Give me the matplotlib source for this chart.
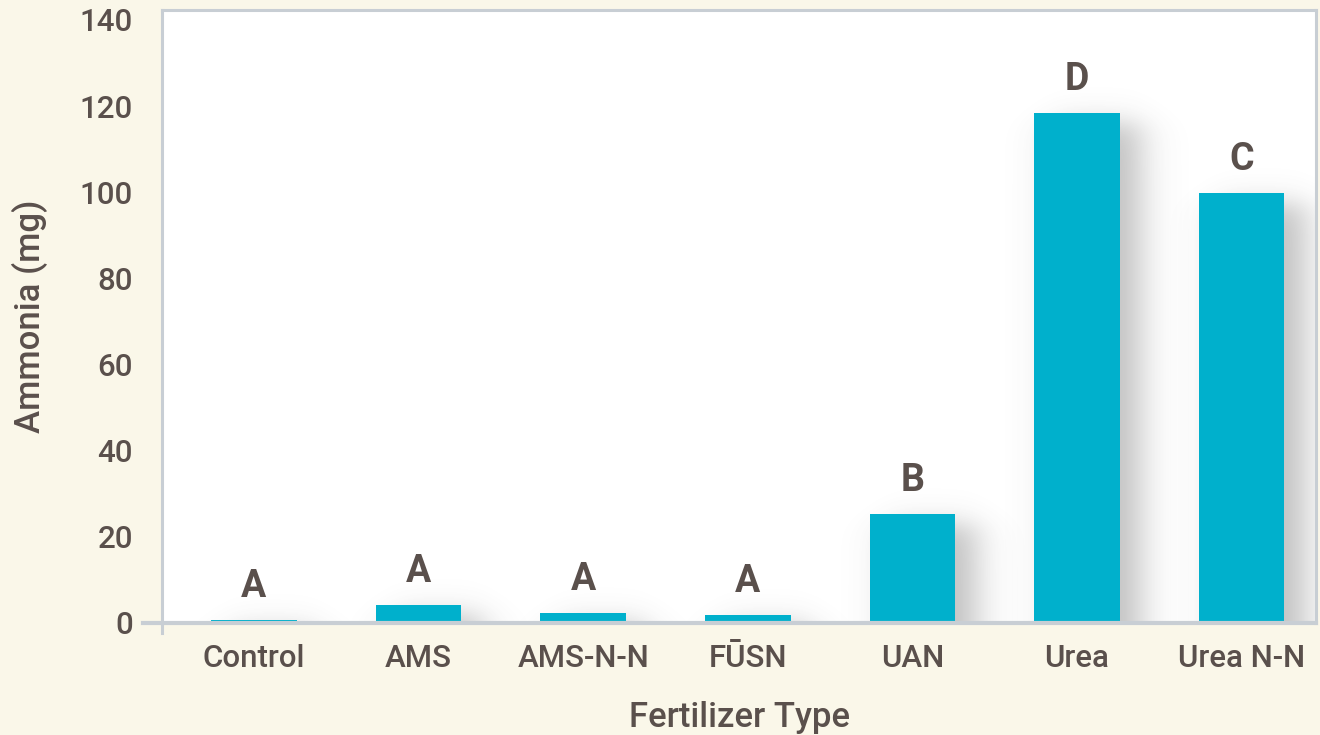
import matplotlib
matplotlib.use("Agg")
import matplotlib.pyplot as plt
import numpy as np

categories = ["Control", "AMS", "AMS-N-N", "FŪSN", "UAN", "Urea", "Urea N-N"]
ammonia = [0.7, 4.2, 2.3, 1.9, 25.3, 118.4, 99.8]
groups = ["A", "A", "A", "A", "B", "D", "C"]
yticks = [0, 20, 40, 60, 80, 100, 120, 140]

BG, INK, BAR, SPINE = "#faf7e9", "#5a504c", "#00b0cc", "#c8ced4"

plt.rcParams.update({"font.family": ["Roboto", "DejaVu Sans"], "text.color": INK})
fig = plt.figure(figsize=(13.2, 7.35), dpi=100, facecolor=BG)
ax = fig.add_axes([0.1227, 0.1524, 0.8743, 0.834])
ax.set_facecolor("white")

x = list(range(len(categories)))
w = 0.52
XLIM, YLIM = (-0.559, 6.453), (0, 142.3)
px_x = (XLIM[1] - XLIM[0]) / (0.8743 * 1320)   # data units per pixel
px_y = (YLIM[1] - YLIM[0]) / (0.834 * 735)

# blurred drop shadow of each bar, offset to the right
for xi, v in zip(x, ammonia):
    left, right = xi - w / 2 + 20 * px_x, xi + w / 2 + 20 * px_x
    x0, x1 = xi - w / 2 - 40 * px_x, xi + w / 2 + 110 * px_x
    y1 = v + 50 * px_y
    gx = np.linspace(x0, x1, 300)
    gy = np.linspace(0, y1, 300)
    X, Y = np.meshgrid(gx, gy)
    s = 22 * px_x
    fx = 0.25 * (1 + np.tanh((X - left) / s)) * (1 - np.tanh((X - right) / s))
    fy = 0.5 * (1 - np.tanh((Y - (v - 10 * px_y)) / (16 * px_y)))
    rgba = np.zeros(X.shape + (4,))
    rgba[..., :3] = 0.3
    rgba[..., 3] = 0.36 * fx * fy
    ax.imshow(rgba, extent=(x0, x1, 0, y1), origin="lower", aspect="auto",
              interpolation="bilinear", zorder=1)

ax.bar(x, ammonia, width=w, color=BAR, zorder=3)
for xi, v, g in zip(x, ammonia, groups):
    ax.annotate(g, (xi, v), xytext=(0, 11), textcoords="offset points", ha="center",
                va="bottom", fontsize=27, fontweight="bold", color=INK, zorder=5)

ax.set_xlim(*XLIM)
ax.set_ylim(*YLIM)
ax.set_xticks(x)
ax.set_xticklabels(categories, fontsize=22.5, fontweight="medium")
ax.set_yticks(yticks)
ax.set_yticklabels([str(t) for t in yticks], fontsize=22.5, fontweight="medium")
ax.tick_params(length=0, colors=INK)
ax.tick_params(axis="x", pad=15)
ax.tick_params(axis="y", pad=21)

for s in ("top", "right", "left"):
    ax.spines[s].set_color(SPINE)
    ax.spines[s].set_linewidth(2.2)
ax.spines["bottom"].set_visible(False)
# axis cross lines extending past the plot corner
ax.plot([-0.675, XLIM[1]], [0, 0], color=SPINE, lw=3, clip_on=False, zorder=4)
ax.plot([XLIM[0], XLIM[0]], [-2.3, 0], color=SPINE, lw=2.2, clip_on=False, zorder=4)

ax.set_xlabel("Fertilizer Type", fontsize=25, fontweight="medium", color=INK, labelpad=20)
ax.set_ylabel("Ammonia (mg)", fontsize=25, fontweight="medium", color=INK, labelpad=23)

fig.savefig("out.png", dpi=100, facecolor=BG)
